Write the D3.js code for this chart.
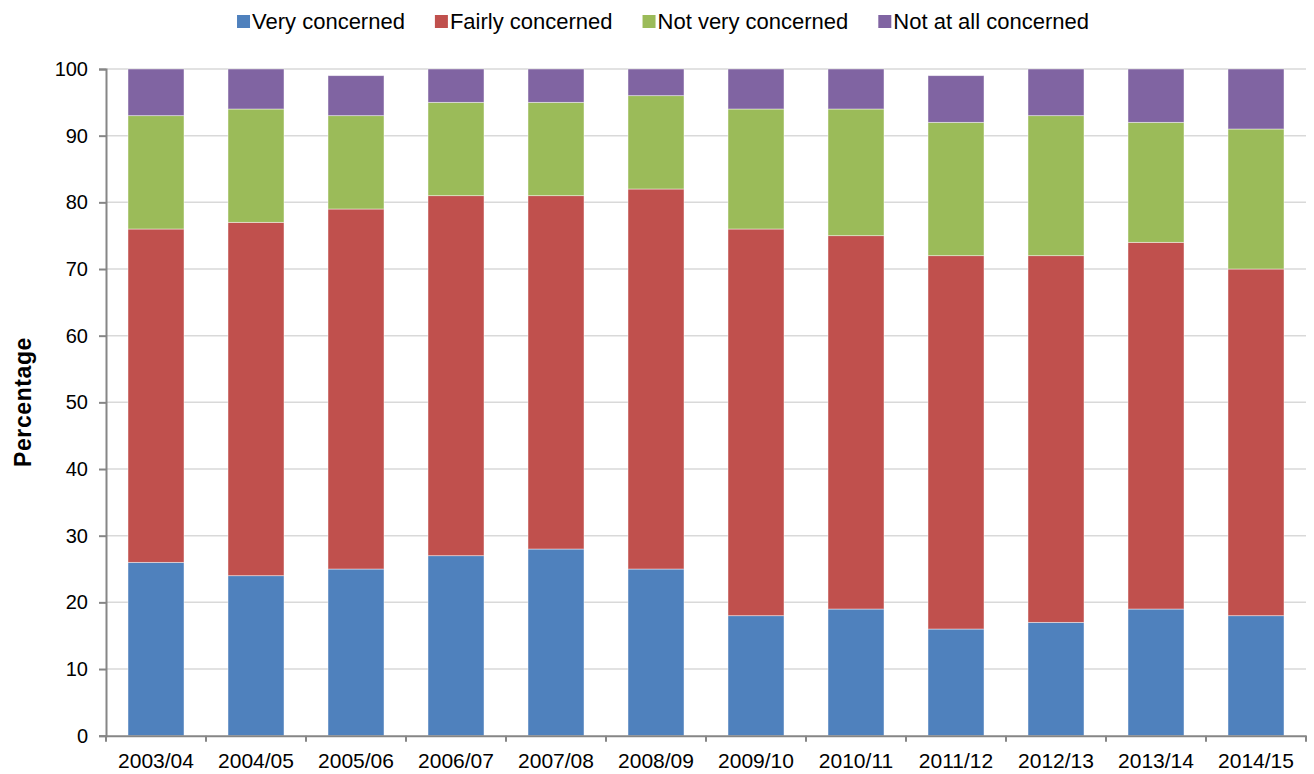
<!DOCTYPE html>
<html>
<head>
<meta charset="utf-8">
<script src="https://cdn.jsdelivr.net/npm/d3@7/dist/d3.min.js"></script>
<style>
  html, body { margin: 0; padding: 0; background: #fff; }
  svg { display: block; }
  text { font-family: "Liberation Sans", Arial, sans-serif; fill: #000; }
</style>
</head>
<body>
<svg id="chart" width="1314" height="774"></svg>
<script>
const categories = ["2003/04","2004/05","2005/06","2006/07","2007/08","2008/09","2009/10","2010/11","2011/12","2012/13","2013/14","2014/15"];
const seriesNames = ["Very concerned","Fairly concerned","Not very concerned","Not at all concerned"];
const seriesColors = ["#4F81BD","#C0504D","#9BBB59","#8064A2"];
const veryConcerned     = [26,24,25,27,28,25,18,19,16,17,19,18];
const fairlyConcerned   = [50,53,54,54,53,57,58,56,56,55,55,52];
const notVeryConcerned  = [17,17,14,14,14,14,18,19,20,21,18,21];
const notAtAllConcerned = [7,6,6,5,5,4,6,6,7,7,8,9];
const yTicks = [0,10,20,30,40,50,60,70,80,90,100];
const yTitle = "Percentage";

const seriesValues = [veryConcerned, fairlyConcerned, notVeryConcerned, notAtAllConcerned];
const rows = categories.map((c, i) => {
  const r = { cat: c };
  seriesNames.forEach((s, j) => r[s] = seriesValues[j][i]);
  return r;
});
const stacked = d3.stack().keys(seriesNames)(rows);

const svg = d3.select("#chart");
const mLeft = 106, mRight = 1306, mTop = 69, mBottom = 735.7;

const x = d3.scaleBand().domain(categories).range([mLeft, mRight]).paddingInner(0.44).paddingOuter(0.22);
const y = d3.scaleLinear().domain([0, 100]).range([mBottom, mTop]);
const color = d3.scaleOrdinal().domain(seriesNames).range(seriesColors);

// gridlines
svg.append("g")
  .selectAll("line")
  .data(yTicks.filter(d => d > 0))
  .join("line")
  .attr("x1", mLeft).attr("x2", mRight)
  .attr("y1", d => y(d)).attr("y2", d => y(d))
  .attr("stroke", "#d9d9d9").attr("stroke-width", 1.5);

// bars
svg.append("g")
  .selectAll("g")
  .data(stacked)
  .join("g")
  .attr("fill", d => color(d.key))
  .selectAll("rect")
  .data(d => d)
  .join("rect")
  .attr("x", d => x(d.data.cat))
  .attr("width", x.bandwidth())
  .attr("y", d => y(d[1]))
  .attr("height", d => y(d[0]) - y(d[1]))
  .attr("stroke", "rgba(255,255,255,0.55)")
  .attr("stroke-width", 0.8);

// y axis
const yAxis = svg.append("g")
  .attr("transform", `translate(${mLeft},0)`)
  .call(d3.axisLeft(y).tickValues(yTicks).tickSize(7).tickPadding(11).tickFormat(d3.format("d")));
yAxis.select(".domain").attr("stroke", "#868686").attr("stroke-width", 2);
yAxis.selectAll(".tick line").attr("stroke", "#868686").attr("stroke-width", 2);
yAxis.selectAll(".tick text").style("font-size", "20px").style("font-family", "Liberation Sans, Arial, sans-serif").attr("fill", "#000");

// x axis
const xAxis = svg.append("g")
  .attr("transform", `translate(0,${mBottom})`)
  .call(d3.axisBottom(x).tickSize(0).tickPadding(17));
xAxis.select(".domain").attr("stroke", "#868686").attr("stroke-width", 2);
xAxis.selectAll(".tick text").style("font-size", "21px").style("font-family", "Liberation Sans, Arial, sans-serif").attr("fill", "#000");
// tick marks between categories
const boundaries = categories.map(c => x(c) - x.step() * x.paddingInner() / 2).concat([mRight]);
xAxis.append("g").selectAll("line")
  .data(boundaries)
  .join("line")
  .attr("x1", d => d).attr("x2", d => d)
  .attr("y1", 0).attr("y2", 6)
  .attr("stroke", "#868686").attr("stroke-width", 2);

// y title
svg.append("text")
  .attr("transform", `translate(31,402) rotate(-90)`)
  .attr("text-anchor", "middle")
  .style("font-size", "23px")
  .style("font-weight", "bold")
  .style("letter-spacing", "0.6px")
  .text(yTitle);

// legend
const legend = svg.append("g");
const items = legend.selectAll("g")
  .data(seriesNames)
  .join("g");
items.append("rect")
  .attr("width", 13).attr("height", 13)
  .attr("y", 15)
  .attr("fill", d => color(d));
items.append("text")
  .attr("x", 15)
  .attr("y", 29)
  .style("font-size", "22px")
  .text(d => d);
let cx = 0;
const gap = 30;
items.each(function() {
  const g = d3.select(this);
  const w = 15 + g.select("text").node().getComputedTextLength();
  g.attr("transform", `translate(${cx},0)`);
  cx += w + gap;
});
const totalW = cx - gap;
legend.attr("transform", `translate(${663 - totalW / 2},0)`);
</script>
</body>
</html>
